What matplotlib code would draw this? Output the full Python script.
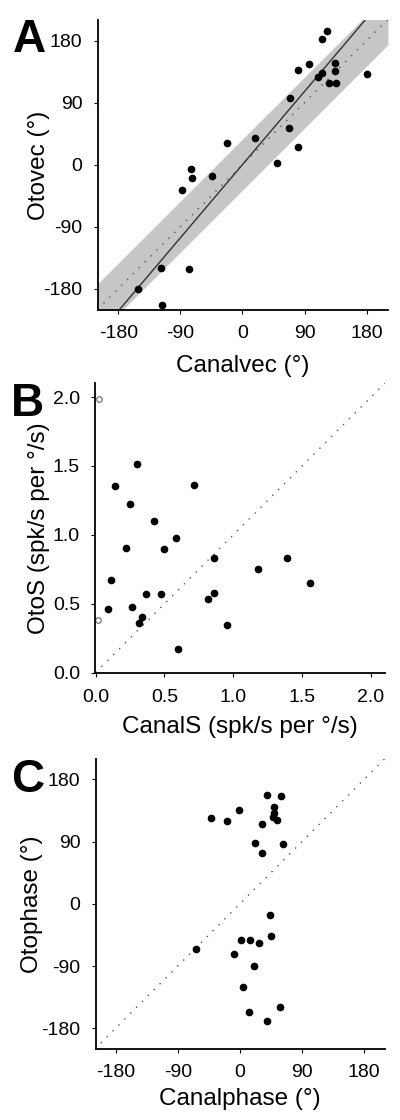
import numpy as np
import matplotlib; matplotlib.use('Agg')
import matplotlib.pyplot as plt

plt.rcParams['font.family'] = ['Liberation Sans', 'DejaVu Sans']
plt.rcParams['axes.unicode_minus'] = False

# Panel A: preferred direction, canal vs otolith (deg)
canalvec = [122, 116, 96, 81, 134, 134, 116, 110, 125, 136, 180, 69, 68, 81,
            18, -23, 50, -75, -73, -44, -88, -118, -78, -151, -116]
otovec = [194, 182, 146, 137, 148, 136, 133, 127, 119, 118, 132, 96, 53, 25,
          38, 31, 2, -7, -20, -16, -37, -150, -152, -180, -204]
band_halfwidth = 37
fit_slope = 1.18

# Panel B: sensitivities (spk/s per deg/s)
canal_s = [0.30, 0.143, 0.247, 0.421, 0.22, 0.586, 0.494, 0.717, 0.114, 0.86,
           1.179, 1.39, 1.559, 0.09, 0.261, 0.366, 0.477, 0.816, 0.857, 0.339,
           0.317, 0.956, 0.60]
oto_s = [1.515, 1.357, 1.226, 1.097, 0.903, 0.976, 0.898, 1.362, 0.675, 0.835,
         0.752, 0.835, 0.653, 0.464, 0.476, 0.570, 0.570, 0.536, 0.580, 0.403,
         0.359, 0.345, 0.172]
canal_s_open = [0.024, 0.02]
oto_s_open = [1.985, 0.383]

# Panel C: phases (deg)
canalphase = [39, 59, 50, 49, 48, 54, -1, -42, -19, 32, 22, 63, 32, 44, 45,
              1, 15, 28, -64, -9, 20, 4, 58, 13, 39]
otophase = [158, 156, 140, 132, 126, 121, 136, 124, 120, 115, 88, 86, 73, -16,
            -46, -52, -52, -57, -66, -73, -90, -120, -149, -156, -169]

deg_ticks = [-180, -90, 0, 90, 180]
s_ticks = [0.0, 0.5, 1.0, 1.5, 2.0]


def style(ax, letter, xlabel, ylabel, xlab_y, ylab_x):
    for side in ('top', 'right'):
        ax.spines[side].set_visible(False)
    for side in ('left', 'bottom'):
        ax.spines[side].set_linewidth(1.3)
    ax.tick_params(direction='out', length=3, width=0.8, pad=8, labelsize=14)
    ax.set_xlabel(xlabel, fontsize=17.5)
    ax.set_ylabel(ylabel, fontsize=17.5)
    ax.xaxis.set_label_coords(0.5, xlab_y)
    ax.yaxis.set_label_coords(ylab_x, 0.5)
    ax.text(-0.235, 1.005, letter, transform=ax.transAxes, fontsize=33,
            fontweight='bold', ha='center', va='top')


fig = plt.figure(figsize=(4, 11.2), dpi=100)

# A
ax = fig.add_axes([0.244, 0.7232, 0.726, 0.259])
xx = np.array([-210, 211])
ax.fill_between(xx, xx - band_halfwidth, xx + band_halfwidth, color='#c6c6c6', lw=0)
ax.plot(xx, xx, color='#555555', lw=1, ls=(0, (1, 5)))
ax.plot(xx, fit_slope * xx, color='#333333', lw=1)
ax.plot(canalvec, otovec, 'o', color='black', ms=4.5)
ax.set_xlim(-210, 211)
ax.set_ylim(-211, 210)
ax.set_xticks(deg_ticks)
ax.set_yticks(deg_ticks)
style(ax, 'A', 'Canalvec (°)', 'Otovec (°)', -0.155, -0.164)

# B
ax = fig.add_axes([0.238, 0.3988, 0.724, 0.259])
ax.plot([0, 2.1], [0, 2.1], color='#555555', lw=1, ls=(0, (1, 5)))
ax.plot(canal_s, oto_s, 'o', color='black', ms=4.5)
ax.plot(canal_s_open, oto_s_open, 'o', mfc='white', mec='#666666', mew=0.8, ms=4)
ax.set_xlim(-0.003, 2.1)
ax.set_ylim(-0.005, 2.1)
ax.set_xticks(s_ticks)
ax.set_yticks(s_ticks)
style(ax, 'B', 'CanalS (spk/s per °/s)', 'OtoS (spk/s per °/s)', -0.148, -0.156)

# C
ax = fig.add_axes([0.239, 0.0634, 0.723, 0.2586])
xx = np.array([-210, 210])
ax.plot(xx, xx, color='#555555', lw=1, ls=(0, (1, 5)))
ax.plot(canalphase, otophase, 'o', color='black', ms=4.5)
ax.set_xlim(-209, 210)
ax.set_ylim(-210, 209)
ax.set_xticks(deg_ticks)
ax.set_yticks(deg_ticks)
style(ax, 'C', 'Canalphase (°)', 'Otophase (°)', -0.135, -0.182)

fig.savefig('out.png', dpi=100)
